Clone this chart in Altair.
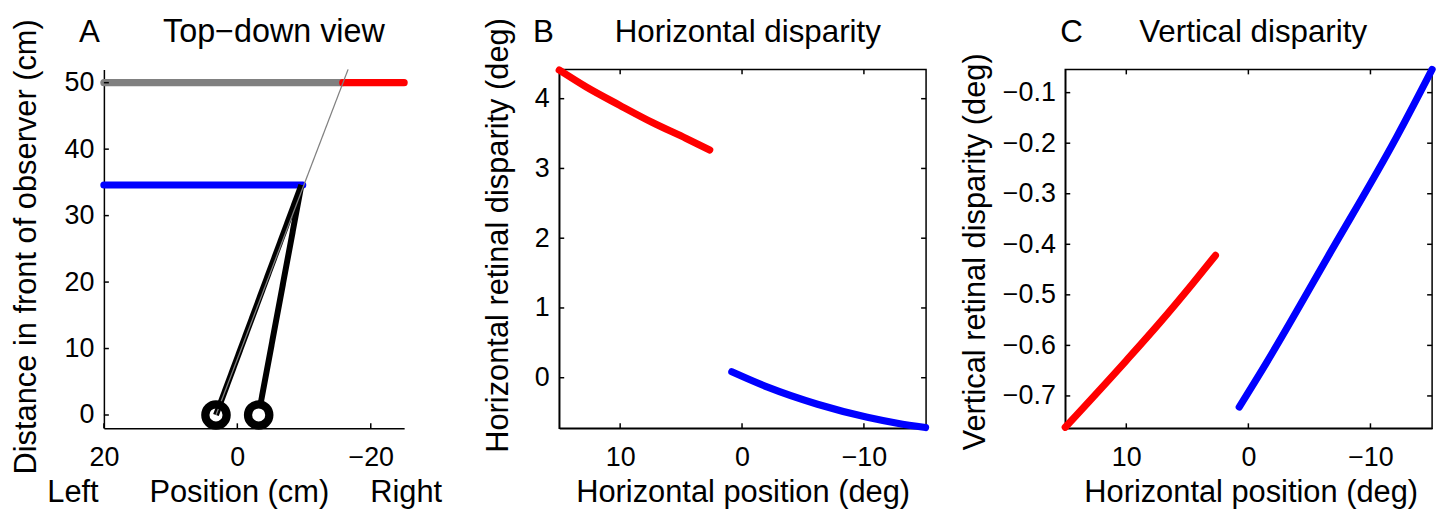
import altair as alt
import pandas as pd

FONT = "Liberation Sans"
TICK_FS = 27
LAB_FS = 31
TTL_FS = 31.5
LW = 7.2  # thick data line width

# ---------------- Panel A: top-down view (cm) ----------------
a_xticks = [20, 0, -20]
a_yticks = [0, 10, 20, 30, 40, 50]
far_gray_x = [20, -15.8]
far_gray_y = [50, 50]
far_red_x = [-15.8, -25]
far_red_y = [50, 50]
near_blue_x = [20, -9.8]
near_blue_y = [34.6, 34.6]
ray_left_x = [3.2, -9.6]
ray_left_y = [0, 34.6]
ray_right_x = [-3.4, -9.6]
ray_right_y = [1.2, 34.6]
sight_x = [3.2, -16.6]
sight_y = [0, 52]
eye_x = [3.2, -3.2]
eye_y = [0, 0]

# ---------------- Panel B: horizontal disparity ----------------
b_xticks = [10, 0, -10]
b_yticks = [0, 1, 2, 3, 4]
b_red_x = [15.0, 12.76, 10.03, 7.31, 4.58, 2.65]
b_red_y = [4.41, 4.165, 3.905, 3.655, 3.43, 3.265]
b_blue_x = [0.84, -2.1, -6.19, -10.28, -12.74, -15.06]
b_blue_y = [0.085, -0.135, -0.38, -0.567, -0.652, -0.714]

# ---------------- Panel C: vertical disparity ----------------
c_xticks = [10, 0, -10]
c_yticks = [-0.7, -0.6, -0.5, -0.4, -0.3, -0.2, -0.1]
c_red_x = [15.0, 10.0, 7.25, 4.54, 2.7]
c_red_y = [-0.762, -0.630, -0.555, -0.477, -0.422]
c_blue_x = [0.75, -1.44, -6.6, -12.16, -15.05]
c_blue_y = [-0.722, -0.636, -0.421, -0.187, -0.054]

# ---------------- layout sizes ----------------
WA, WB, H = 302, 369, 361
TL = 5  # inward tick length


def df_line(xs, ys):
    return pd.DataFrame({"x": xs, "y": ys, "i": list(range(len(xs)))})


def make_enc(xdom, ydom, xaxis, yaxis):
    def X():
        return alt.X("x:Q", scale=alt.Scale(domain=xdom, nice=False, zero=False), axis=xaxis)

    def Y():
        return alt.Y("y:Q", scale=alt.Scale(domain=ydom, nice=False, zero=False), axis=yaxis)

    return X, Y


def line(xs, ys, X, Y, color, width, cap="round", interp="monotone"):
    return alt.Chart(df_line(xs, ys)).mark_line(
        color=color, strokeWidth=width, strokeCap=cap, interpolate=interp
    ).encode(x=X(), y=Y(), order="i:Q")


def ticks(xt, yt, X, Y, W, box=True):
    dx = pd.DataFrame({"x": xt})
    dy = pd.DataFrame({"y": yt})
    base = dict(color="black", strokeWidth=1.5)
    layers = [
        alt.Chart(dx).mark_rule(**base).encode(x=X(), y=alt.value(H), y2=alt.value(H - TL)),
        alt.Chart(dy).mark_rule(**base).encode(y=Y(), x=alt.value(0), x2=alt.value(TL)),
    ]
    if box:
        layers += [
            alt.Chart(dx).mark_rule(**base).encode(x=X(), y=alt.value(0), y2=alt.value(TL)),
            alt.Chart(dy).mark_rule(**base).encode(y=Y(), x=alt.value(W), x2=alt.value(W - TL)),
        ]
    return layers


def text(label, x, y, size=TTL_FS, align="left"):
    return alt.Chart(pd.DataFrame({"t": [label]})).mark_text(
        font=FONT, fontSize=size, align=align, baseline="alphabetic", color="black"
    ).encode(text="t:N", x=alt.value(x), y=alt.value(y))


def xaxis(title, values, tx, fmt):
    return alt.Axis(
        title=title, values=values, format=fmt, titleX=tx, titleY=73.6,
        titleAlign="center", titleBaseline="alphabetic",
        labelBaseline="alphabetic", labelPadding=37, labelAlign="center",
    )


def yaxis(title, values, tx, ty, fmt):
    return alt.Axis(
        title=title, values=values, format=fmt, titleX=tx, titleY=ty,
        titleAngle=-90, titleAlign="center", titleBaseline="alphabetic",
        labelPadding=10, labelAlign="right", labelBaseline="middle",
    )


# ---------------- Panel A ----------------
XA, YA = make_enc(
    [20, -25], [-2, 52],
    xaxis("Position (cm)", a_xticks, 135.7, "d"),
    yaxis("Distance in front of observer (cm)", a_yticks, -69, 178, "d"),
)
eyes = alt.Chart(df_line(eye_x, eye_y)).mark_point(
    shape="circle", size=460, filled=False, color="black", strokeWidth=8.3, opacity=1
).encode(x=XA(), y=YA())

panel_a = alt.layer(
    line(far_gray_x, far_gray_y, XA, YA, "#808080", LW, interp="linear"),
    line(far_red_x, far_red_y, XA, YA, "#ff0000", LW, interp="linear"),
    line(near_blue_x, near_blue_y, XA, YA, "#0000ff", LW, interp="linear"),
    line(ray_left_x, ray_left_y, XA, YA, "black", 6, "butt", "linear"),
    line(ray_right_x, ray_right_y, XA, YA, "black", 6, "butt", "linear"),
    line(sight_x, sight_y, XA, YA, "#808080", 1.3, "butt", "linear"),
    eyes,
    *ticks(a_xticks, a_yticks, XA, YA, WA, box=False),
    text("A", -25, -27.5),
    text("Top\u2212down view", 171, -27.5, size=32.5, align="center"),
    text("Left", -31.1, 435, size=LAB_FS, align="center"),
    text("Right", 304, 435, size=LAB_FS, align="center"),
).properties(width=WA, height=H)

# ---------------- Panel B ----------------
XB, YB = make_enc(
    [15, -15.1], [-0.725, 4.42],
    xaxis("Horizontal position (deg)", b_xticks, 184.5, "d"),
    yaxis("Horizontal retinal disparity (deg)", b_yticks, -52, 166.5, "d"),
)
panel_b = alt.layer(
    line(b_red_x, b_red_y, XB, YB, "#ff0000", LW),
    line(b_blue_x, b_blue_y, XB, YB, "#0000ff", LW),
    *ticks(b_xticks, b_yticks, XB, YB, WB),
    text("B", -26.3, -27.5),
    text("Horizontal disparity", 189.7, -27.5, align="center"),
).properties(width=WB, height=H, view=alt.ViewBackground(stroke="black", strokeWidth=1.5))

# ---------------- Panel C ----------------
XC, YC = make_enc(
    [15, -15.05], [-0.764, -0.054],
    xaxis("Horizontal position (deg)", c_xticks, 186.5, "d"),
    yaxis("Vertical retinal disparity (deg)", c_yticks, -81, 183, ".1f"),
)
panel_c = alt.layer(
    line(c_red_x, c_red_y, XC, YC, "#ff0000", LW),
    line(c_blue_x, c_blue_y, XC, YC, "#0000ff", LW),
    *ticks(c_xticks, c_yticks, XC, YC, WB),
    text("C", -5, -27.5),
    text("Vertical disparity", 189, -27.5, align="center"),
).properties(width=WB, height=H, view=alt.ViewBackground(stroke="black", strokeWidth=1.5))

chart = (
    alt.hconcat(
        panel_a,
        alt.hconcat(panel_b, panel_c, spacing=140, bounds="flush"),
        spacing=156,
        bounds="flush",
    )
    .properties(padding={"left": 9.5, "top": 14.3, "right": 2, "bottom": 2}, background="white")
    .configure(font=FONT)
    .configure_view(strokeWidth=0)
    .configure_axis(
        labelFont=FONT, titleFont=FONT, labelFontSize=TICK_FS, titleFontSize=LAB_FS,
        labelColor="black", titleColor="black", titleFontWeight="normal",
        domainColor="black", domainWidth=1.5, ticks=False, tickSize=0, grid=False,
        labelFlush=False, labelOverlap=False,
    )
)

chart.save("out.html", embed_options={"renderer": "svg", "actions": False})
